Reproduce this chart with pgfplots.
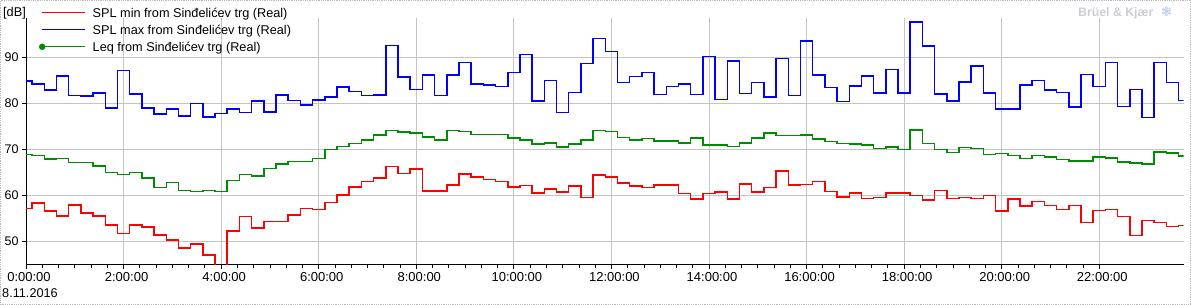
\documentclass[border=0pt]{standalone}
\usepackage{pgfplots}
\pgfplotsset{compat=1.18}
\usepackage{pgfplotstable}
\usepackage{fontspec}
\setmainfont{Liberation Sans}
\newfontfamily\dejavu{DejaVu Sans}
\definecolor{splblue}{RGB}{0,0,255}
\definecolor{splred}{RGB}{255,0,0}
\definecolor{leqgreen}{RGB}{0,140,0}
\definecolor{gridgray}{RGB}{196,196,196}
\definecolor{bkgray}{RGB}{202,205,212}
\definecolor{bkblue}{RGB}{185,205,235}

\pgfplotstableread{
t      max   leq   min
0.00   84.8  68.8  57.1
0.25   84.1  68.6  58.3
0.50   82.8  67.8  56.5
0.75   85.9  67.9  55.5
1.00   81.7  67.1  57.8
1.25   81.5  67.1  56.1
1.50   82.2  66.3  55.5
1.75   78.9  64.9  53.5
2.00   87.1  64.5  51.6
2.25   82.0  64.9  53.5
2.50   78.9  63.7  53.1
2.75   77.6  61.7  51.3
3.00   78.7  62.7  50.2
3.25   77.2  61.0  48.5
3.50   79.9  60.8  49.4
3.75   77.0  61.0  47.0
4.00   77.7  60.8  42.0
4.25   78.7  63.2  52.2
4.50   77.9  64.5  55.3
4.75   80.4  64.1  52.8
5.00   78.1  65.8  54.3
5.25   81.8  66.8  54.3
5.50   80.6  67.3  55.7
5.75   79.6  67.3  57.1
6.00   80.7  67.9  56.9
6.25   81.3  69.9  58.4
6.50   83.5  70.6  60.0
6.75   82.5  71.2  61.8
7.00   81.6  72.0  62.9
7.25   81.8  73.1  63.7
7.50   92.5  74.0  66.2
7.75   85.7  73.7  64.7
8.00   83.0  73.5  65.7
8.25   86.1  72.6  60.9
8.50   81.7  72.0  60.9
8.75   86.1  74.0  62.2
9.00   88.8  73.8  64.6
9.25   84.2  73.2  63.9
9.50   83.9  73.2  63.4
9.75   83.6  73.2  62.9
10.00  86.7  72.4  61.8
10.25  90.6  72.0  62.1
10.50  80.4  71.1  60.5
10.75  84.9  71.3  61.3
11.00  78.0  70.4  60.7
11.25  82.3  71.1  62.0
11.50  88.6  72.0  59.5
11.75  94.0  74.0  64.4
12.00  91.2  73.8  63.9
12.25  84.5  72.5  62.6
12.50  85.8  72.0  62.0
12.75  86.7  72.3  61.6
13.00  81.9  71.8  62.2
13.25  83.6  71.8  62.2
13.50  84.1  71.3  60.3
13.75  81.9  72.4  59.2
14.00  90.1  70.9  60.3
14.25  80.8  70.9  60.7
14.50  89.1  70.6  59.2
14.75  82.1  71.3  62.4
15.00  84.5  72.4  60.7
15.25  81.3  73.5  61.6
15.50  89.7  72.9  65.2
15.75  81.6  73.0  62.2
16.00  93.5  73.1  62.3
16.25  86.1  72.2  62.9
16.50  83.4  71.6  60.8
16.75  80.3  71.2  59.6
17.00  83.7  71.1  60.5
17.25  85.9  70.9  59.3
17.50  82.2  70.1  59.5
17.75  87.3  70.4  60.5
18.00  82.2  69.9  60.5
18.25  97.6  74.2  59.9
18.50  92.4  71.2  58.9
18.75  82.0  69.9  61.0
19.00  80.5  69.3  59.3
19.25  84.6  70.3  59.5
19.50  88.1  70.1  59.3
19.75  82.2  68.8  59.9
20.00  78.7  69.0  56.5
20.25  78.7  68.6  59.1
20.50  83.9  67.9  57.6
20.75  84.9  68.6  58.6
21.00  82.8  68.3  57.7
21.25  82.3  67.7  56.9
21.50  79.1  67.4  57.7
21.75  86.2  67.4  54.0
22.00  83.6  68.3  56.6
22.25  88.8  68.1  56.9
22.50  79.3  67.2  55.3
22.75  83.0  67.0  51.2
23.00  76.9  66.8  54.5
23.25  88.8  69.4  54.0
23.50  84.5  69.2  53.2
23.75  80.6  68.5  53.4
}\data

\begin{document}
\begin{tikzpicture}
\path[use as bounding box] (0pt,0pt) rectangle (1191pt,305pt);
\draw[gray!55, densely dotted, line width=0.8pt] (0.5pt,0.5pt) rectangle (1190.5pt,304.5pt);
\begin{axis}[
  at={(26pt,40pt)}, anchor=south west,
  scale only axis, width=1157.7pt, height=247pt,
  xmin=0, xmax=23.73, ymin=44.8, ymax=98.5,
  axis x line=bottom, axis y line=left,
  axis line style={-, black, line width=1pt},
  xtick={0,2,4,6,8,10,12,14,16,18,20,22},
  xticklabels={0:00:00,2:00:00,4:00:00,6:00:00,8:00:00,10:00:00,12:00:00,14:00:00,16:00:00,18:00:00,20:00:00,22:00:00},
  minor x tick num=5,
  ytick={50,60,70,80,90},
  tick align=outside, major tick length=4pt, minor tick length=3pt,
  tick style={black, line width=0.8pt},
  grid=major, major grid style={gridgray, line width=0.8pt},
  xticklabel style={font=\fontsize{13}{15}\selectfont, text=black, xshift=3pt},
  yticklabel style={font=\fontsize{12.5}{15}\selectfont, text=black},
  /pgf/number format/assume math mode=true,
  legend image code/.code={\draw[#1, line width=1pt] (0pt,4.5pt) -- (43pt,4.5pt);},
  legend style={at={(rel axis cs:0,1)}, anchor=north west, xshift=13pt, yshift=9.7pt,
    draw=none, fill=none, inner sep=0pt, outer sep=0pt,
    column sep=7pt, row sep=5pt,
    nodes={inner sep=0pt, text height=9pt, text depth=3pt},
    cells={anchor=base west},
    font=\fontsize{12.7}{14}\selectfont},
]
\addlegendimage{splred}
\addlegendentry{SPL min from Sinđelićev trg (Real)}
\addlegendimage{splblue}
\addlegendentry{SPL max from Sinđelićev trg (Real)}
\addlegendimage{leqgreen, legend image code/.code={\draw[leqgreen, line width=1pt] (0pt,4.5pt) -- (43pt,4.5pt); \fill[leqgreen] (0pt,4.5pt) circle (3pt);}}
\addlegendentry{Leq from Sinđelićev trg (Real)}
\addplot[const plot mark mid, splblue, line width=1.5pt, forget plot] table[x=t, y=max] {\data};
\addplot[const plot mark mid, leqgreen, line width=1.5pt, forget plot] table[x=t, y=leq] {\data};
\addplot[const plot mark mid, splred, line width=1.5pt, forget plot] table[x=t, y=min] {\data};
\end{axis}
\node[anchor=base west, inner sep=0pt, font=\fontsize{12.7}{14}\selectfont] at (3pt,288pt) {[dB]};
\node[anchor=base west, inner sep=0pt, font=\fontsize{12.7}{14}\selectfont] at (2pt,7pt) {8.11.2016};
\node[anchor=base west, inner sep=0pt, text=bkgray, font=\bfseries\fontsize{12.3}{14}\selectfont] at (1078pt,288pt) {Brüel \& Kjær};
\node[anchor=base west, inner sep=0pt, text=bkblue, font=\dejavu\fontsize{13}{14}\selectfont] at (1161pt,288pt) {❃};
\end{tikzpicture}
\end{document}
